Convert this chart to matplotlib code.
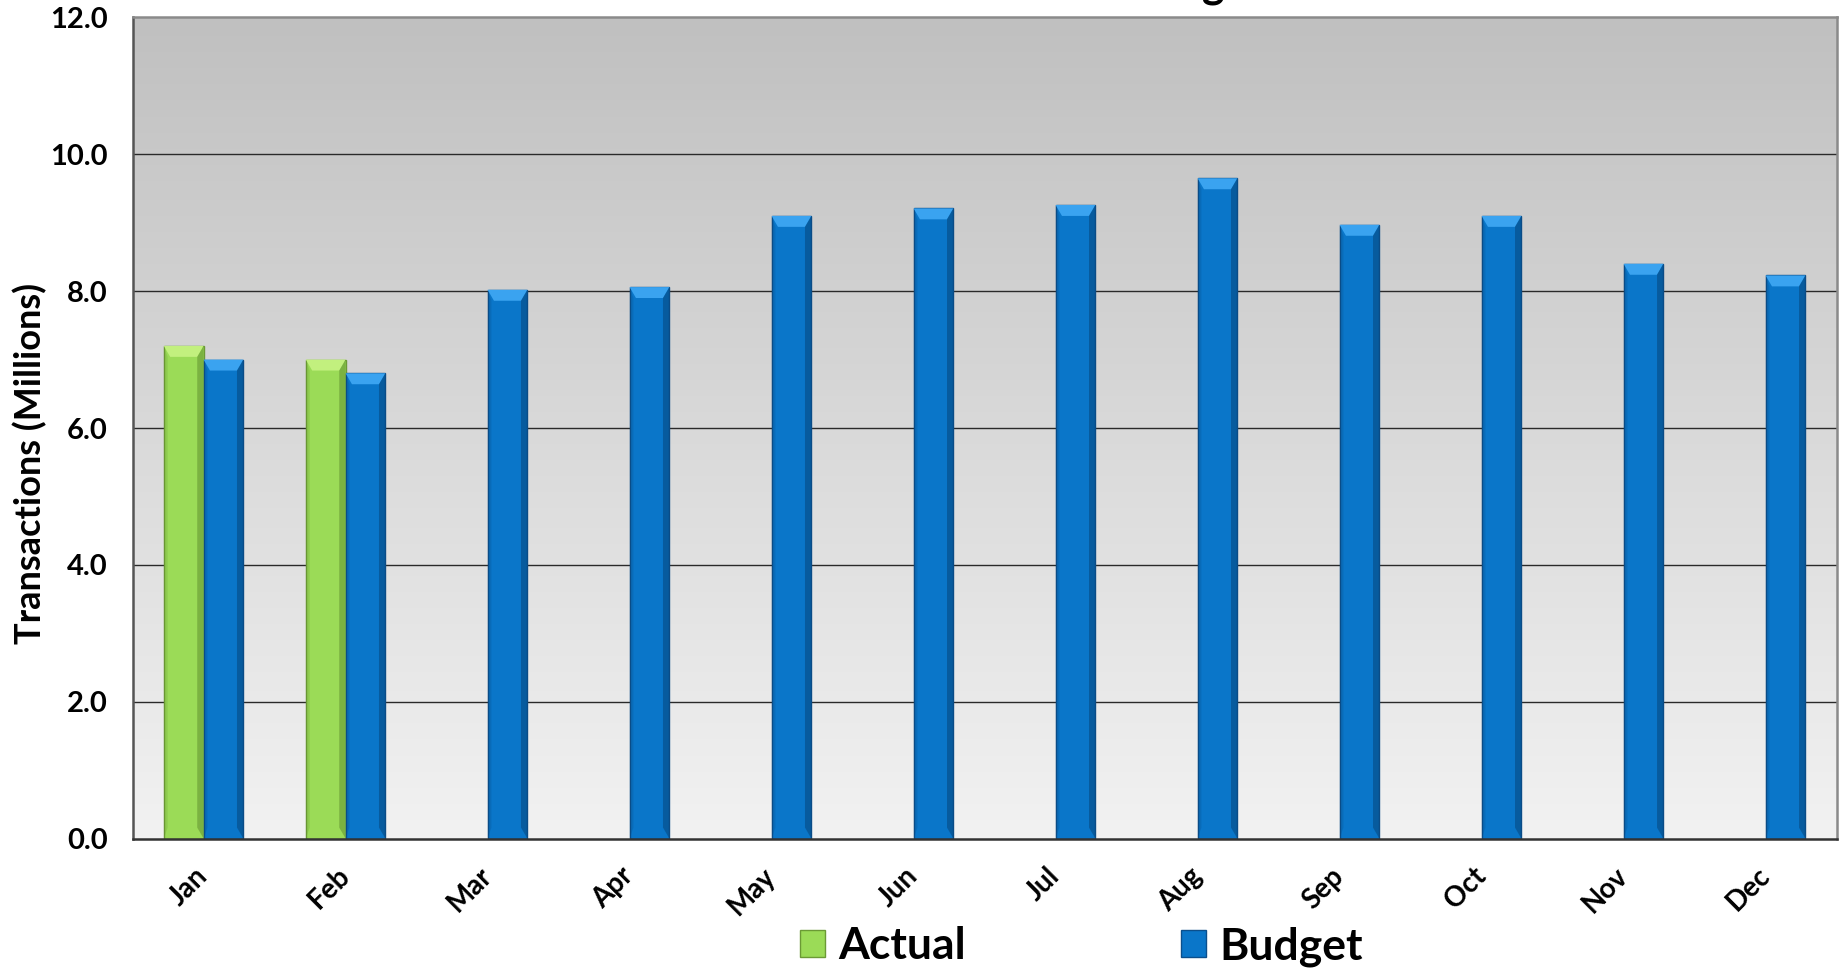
import matplotlib
matplotlib.use("Agg")
import matplotlib.pyplot as plt
import numpy as np
from matplotlib.patches import Polygon, Patch
from matplotlib.colors import LinearSegmentedColormap

months = ["Jan", "Feb", "Mar", "Apr", "May", "Jun", "Jul", "Aug", "Sep", "Oct", "Nov", "Dec"]
actual = [7.2, 7.0]
budget = [7.0, 6.8, 8.02, 8.06, 9.1, 9.21, 9.26, 9.65, 8.97, 9.1, 8.4, 8.23]
yticks = [0.0, 2.0, 4.0, 6.0, 8.0, 10.0, 12.0]
series_names = ["Actual", "Budget"]
title_text = "Transactions: Actual vs. Budget"

plt.rcParams['font.family'] = ['Lato', 'DejaVu Sans']
plt.rcParams['font.weight'] = 'bold'

fig = plt.figure(figsize=(18.39, 9.72), dpi=100)
ax = fig.add_axes([0.0721, 0.1373, 0.9266, 0.8447])

# gradient background
grad = np.linspace(0, 1, 256).reshape(-1, 1)
cmap = LinearSegmentedColormap.from_list("bg", ["#c0c0c0", "#f2f2f2"])
ax.imshow(grad, extent=[0, 1, 0, 1], transform=ax.transAxes, cmap=cmap,
          aspect='auto', zorder=0, origin='upper')

x = np.arange(len(months))
w = 0.28
green = "#9bdb57"
green_edge = "#6b9a35"
blue = "#0a76c9"
blue_edge = "#0b4f8c"

ax.set_xlim(-0.5, len(months) - 0.5)
ax.set_ylim(0, 12)

def bevel_bar(xc, v, face, edge, light, dark):
    ax.bar(xc, v, width=w, color=face, edgecolor=edge, linewidth=1.0, zorder=3)
    d = w * 0.16
    dy = 0.16
    x0, x1 = xc - w / 2, xc + w / 2
    top = Polygon([(x0, v), (x1, v), (x1 - d, v - dy), (x0 + d, v - dy)],
                  closed=True, facecolor=light, edgecolor='none', zorder=4)
    right = Polygon([(x1, v), (x1, 0), (x1 - d, dy), (x1 - d, v - dy)],
                    closed=True, facecolor=dark, edgecolor='none', alpha=0.5, zorder=4)
    left = Polygon([(x0, v), (x0, 0), (x0 + d * 0.6, dy), (x0 + d * 0.6, v - dy)],
                   closed=True, facecolor=dark, edgecolor='none', alpha=0.2, zorder=4)
    ax.add_patch(top)
    ax.add_patch(right)
    ax.add_patch(left)

for i, v in enumerate(actual):
    bevel_bar(x[i] - w / 2, v, green, green_edge, "#c2f07e", "#5d8a2c")
for i, v in enumerate(budget):
    bevel_bar(x[i] + w / 2, v, blue, blue_edge, "#3aa3f0", "#064275")

for yv in yticks[1:-1]:
    ax.axhline(yv, color="#2a2a2a", lw=1.0, zorder=1)

ax.set_yticks(yticks)
ax.set_yticklabels([f"{t:.1f}" for t in yticks], fontsize=21, fontweight='bold')
ax.set_xticks(x)
ax.set_xticklabels(months, fontsize=20, fontweight='bold', rotation=45,
                   ha='right', va='center', rotation_mode='anchor')
ax.tick_params(axis='y', length=0, pad=18)
ax.tick_params(axis='x', length=0, pad=24)

ax.set_ylabel("Transactions (Millions)", fontsize=26, fontweight='bold')
ax.yaxis.set_label_coords(-0.05, 0.457)

for s in ['top', 'right']:
    ax.spines[s].set_color("#8a8a8a")
    ax.spines[s].set_linewidth(1.8)
ax.spines['left'].set_color("#555555")
ax.spines['left'].set_linewidth(1.8)
ax.spines['bottom'].set_color("#333333")
ax.spines['bottom'].set_linewidth(1.8)
for s in ax.spines.values():
    s.set_zorder(5)

handles = [Patch(facecolor=green, edgecolor=green_edge),
           Patch(facecolor=blue, edgecolor=blue_edge)]
fig.legend(handles, series_names, loc='center', bbox_to_anchor=(0.588, 0.026),
           ncol=2, frameon=False, prop={'size': 32, 'weight': 'bold'},
           handlelength=0.55, handleheight=0.55, handletextpad=0.3, columnspacing=4.85)

fig.text(0.687, 1.003, title_text, ha='right', va='baseline', fontsize=31, fontweight='bold')

fig.savefig("out.png", dpi=100)
